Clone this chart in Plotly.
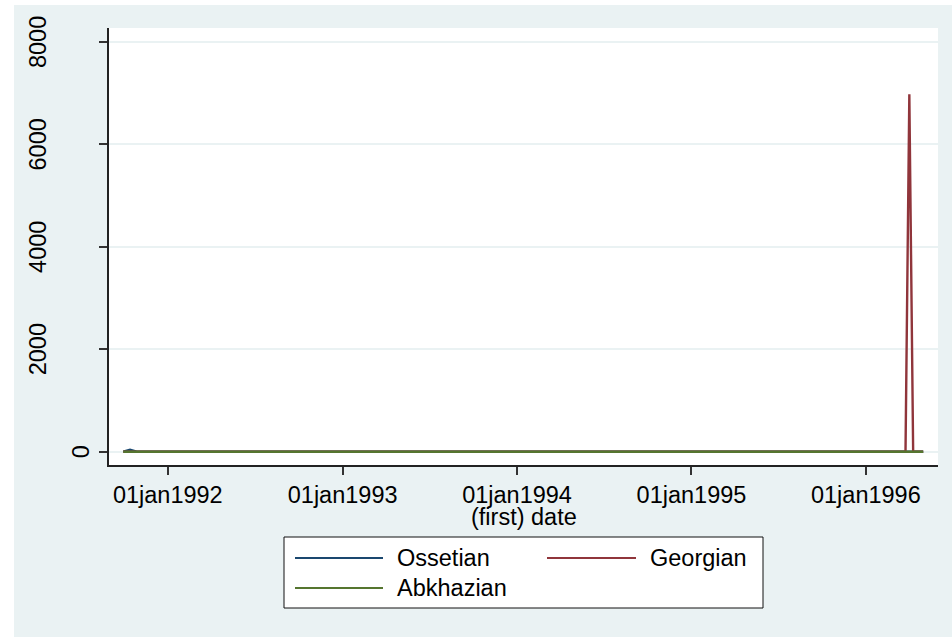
import plotly.graph_objects as go

# ---- data ----
dates = ["1991-09-30", "1991-10-14", "1991-10-28", "1996-03-24",
         "1996-04-01", "1996-04-09", "1996-04-30"]
ossetian = [0, 40, 0, 0, 0, 0, 0]
georgian = [0, 0, 0, 0, 6980, 0, 0]
abkhazian = [0, 0, 0, 0, 0, 0, 0]

series_names = ["Ossetian", "Georgian", "Abkhazian"]
series_colors = ["#1a476f", "#90353b", "#55752f"]

x_tick_vals = ["1992-01-01", "1993-01-01", "1994-01-01", "1995-01-01", "1996-01-01"]
x_tick_text = ["01jan1992", "01jan1993", "01jan1994", "01jan1995", "01jan1996"]
y_tick_vals = [0, 2000, 4000, 6000, 8000]
y_tick_text = ["0", "2000", "4000", "6000", "8000"]
x_title = "(first) date"

# ---- layout geometry (pixels) ----
FW, FH = 952, 637
L, R, T, B = 109, 938, 28, 465
W, H = R - L, B - T


def fx(px):
    return (px - L) / W


def fy(py):
    return (B - py) / H


FONT = "Liberation Sans, Arial, sans-serif"
FS = 23.5
BG = "#eaf2f3"

fig = go.Figure()
for name, vals, col in zip(series_names, [ossetian, georgian, abkhazian], series_colors):
    fig.add_trace(go.Scatter(x=dates, y=vals, mode="lines", name=name,
                             line=dict(color=col, width=2.4), showlegend=False))

shapes = [
    dict(type="rect", xref="paper", yref="paper", x0=fx(0), x1=fx(14), y0=fy(FH), y1=fy(0),
         fillcolor="white", line=dict(width=0), layer="below"),
    dict(type="rect", xref="paper", yref="paper", x0=fx(0), x1=fx(FW), y0=fy(5), y1=fy(0),
         fillcolor="white", line=dict(width=0), layer="below"),
    # legend box
    dict(type="rect", xref="paper", yref="paper", x0=fx(284), x1=fx(763), y0=fy(608), y1=fy(537),
         fillcolor="white", line=dict(color="#111111", width=1)),
]
annotations = []

# legend entries
leg_pos = [(295, 383, 398, 558), (547, 636, 651, 558), (295, 383, 398, 588)]
for name, col, (lx0, lx1, tx, ly) in zip(series_names, series_colors, leg_pos):
    shapes.append(dict(type="line", xref="paper", yref="paper", x0=fx(lx0), x1=fx(lx1),
                       y0=fy(ly), y1=fy(ly), line=dict(color=col, width=2)))
    annotations.append(dict(text=name, xref="paper", yref="paper", x=fx(tx - 3), y=fy(ly),
                            xanchor="left", yanchor="middle", showarrow=False,
                            font=dict(family=FONT, size=FS, color="black")))

# y tick labels (vertical, Stata style)
for v, t in zip(y_tick_vals, y_tick_text):
    cx = 80.5 if len(t) == 1 else 38
    annotations.append(dict(text=t, xref="paper", yref="y", x=fx(cx), y=v, textangle=-90,
                            xanchor="center", yanchor="middle", showarrow=False,
                            font=dict(family=FONT, size=FS, color="black")))

# x axis title
annotations.append(dict(text=x_title, xref="paper", yref="paper", x=fx((L + R) / 2), y=fy(517),
                        xanchor="center", yanchor="middle", showarrow=False,
                        font=dict(family=FONT, size=FS, color="black")))

fig.update_layout(
    width=FW, height=FH,
    margin=dict(l=L, r=FW - R, t=T, b=FH - B, pad=0),
    paper_bgcolor=BG, plot_bgcolor="white",
    font=dict(family=FONT, size=FS, color="black"),
    shapes=shapes, annotations=annotations,
    showlegend=False,
    xaxis=dict(type="date", range=["1991-08-31", "1996-05-31"],
               tickvals=x_tick_vals, ticktext=x_tick_text,
               ticks="outside", ticklen=8, tickwidth=1.5, tickcolor="#333333",
               showline=True, linecolor="#222222", linewidth=1.5,
               showgrid=False, zeroline=False,
               tickfont=dict(family=FONT, size=FS, color="black")),
    yaxis=dict(range=[-260, 8275], tickvals=y_tick_vals,
               showticklabels=False,
               ticks="outside", ticklen=8, tickwidth=1.5, tickcolor="#333333",
               showline=True, linecolor="#222222", linewidth=1.5,
               showgrid=True, gridcolor=BG, gridwidth=2, zeroline=False),
)

fig.write_html("out.html", config={"displayModeBar": False},
               post_script="document.body.style.margin='0';document.body.style.overflow='hidden';")
